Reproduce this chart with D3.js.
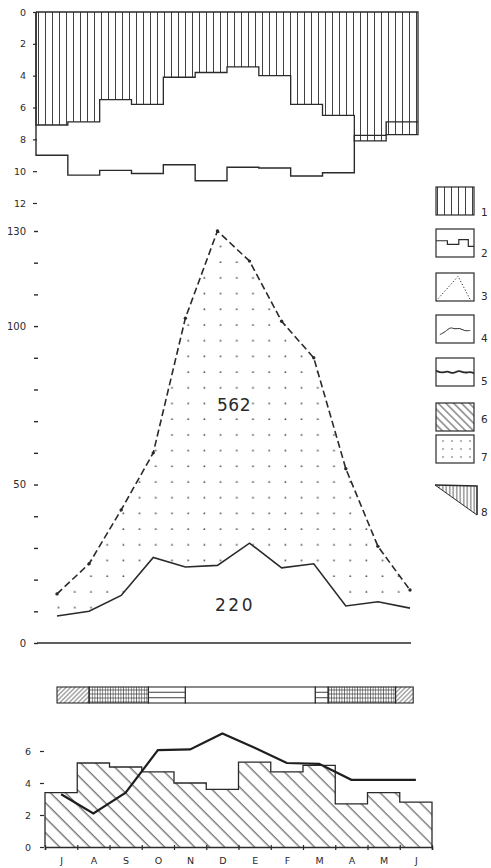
<!DOCTYPE html>
<html><head><meta charset="utf-8">
<script src="https://cdn.jsdelivr.net/npm/d3@7/dist/d3.min.js"></script>
<style>
html,body{margin:0;padding:0;background:#fff;}
svg{display:block;}
text{font-family:"DejaVu Sans",sans-serif;fill:#2a2a2a;}
</style></head>
<body>
<svg id="c" width="491" height="868"></svg>
<script>
// ---------- DATA ----------
const months = ["J","A","S","O","N","D","E","F","M","A","M","J"];
// top panel (depth, 0 at top)
const topHatch = [7.1, 6.9, 5.5, 5.8, 4.1, 3.8, 3.45, 4.0, 5.8, 6.5, 8.1, 7.7];
const topLine  = [9.0, 10.25, 9.95, 10.15, 9.6, 10.6, 9.75, 9.8, 10.3, 10.1, 7.75, 6.9];
const topTicks = [0, 2, 4, 6, 8, 10, 12];
// middle panel
const midDashed = [15.5, 25, 42, 60, 102.5, 130, 120.5, 101.5, 90, 55, 30.5, 16.7];
const midSolid  = [8.5, 10, 15, 27, 24, 24.5, 31.5, 23.7, 25, 11.7, 13, 11];
const midTicks  = [0,10,20,30,40,50,60,70,80,90,100,110,120,130];
const midLabels = [0, 50, 100, 130];
const midTotals = ["562", "220"];
// strip
const stripStart = [0, 1, 2.85, 4, 8.05, 8.45, 10.55];
const stripEnd   = [1, 2.85, 4, 8.05, 8.45, 10.55, 11.1];
const stripKind  = ["diag", "grid", "horiz", "none", "horiz", "grid", "diag"];
// bottom panel
const botHatch = [3.4, 5.25, 5.0, 4.7, 4.0, 3.6, 5.3, 4.7, 5.1, 2.7, 3.4, 2.8];
const botLine  = [3.3, 2.1, 3.4, 6.05, 6.1, 7.1, 6.2, 5.25, 5.2, 4.2, 4.2, 4.2];
const botTicks = [0, 2, 4, 6];
// legend
const legendLabels = ["1","2","3","4","5","6","7","8"];

// ---------- SETUP ----------
const ink = "#2a2a2a";
const svg = d3.select("#c");
const defs = svg.append("defs");

function linePattern(id, w, h, rot, lines, sw){
  const p = defs.append("pattern").attr("id", id).attr("patternUnits","userSpaceOnUse")
    .attr("width", w).attr("height", h);
  if (rot) p.attr("patternTransform", "rotate(" + rot + ")");
  lines.forEach(l => p.append("line").attr("x1", l[0]).attr("y1", l[1]).attr("x2", l[2]).attr("y2", l[3])
    .attr("stroke", ink).attr("stroke-width", sw));
  return p;
}
linePattern("vhatch", 7, 10, 0, [[3.5,0,3.5,10]], 0.9);
linePattern("vhatchDense", 3.5, 10, 0, [[1.75,0,1.75,10]], 0.8);
linePattern("dhatchBig", 10.6, 10, -45, [[5,0,5,10]], 0.9);
linePattern("dhatchLeg", 5.5, 10, -45, [[2.7,0,2.7,10]], 0.9);
linePattern("fwd", 3.2, 10, 45, [[1.6,0,1.6,10]], 0.7);
linePattern("grid", 2.6, 4, 0, [[1.3,0,1.3,4],[0,2,2.6,2]], 0.6);
const dp = defs.append("pattern").attr("id","dots").attr("patternUnits","userSpaceOnUse")
  .attr("width", 16.2).attr("height", 15.7).attr("x", 2).attr("y", 3);
dp.append("circle").attr("cx", 8).attr("cy", 8).attr("r", 0.95).attr("fill", "#555");
const dpl = defs.append("pattern").attr("id","dotsLeg").attr("patternUnits","userSpaceOnUse")
  .attr("width", 9).attr("height", 8).attr("x", 439).attr("y", 437);
dpl.append("circle").attr("cx", 4).attr("cy", 4).attr("r", 0.8).attr("fill", "#555");

function stepPts(vals){
  const pts = [];
  vals.forEach((v,i) => { pts.push([i, v]); pts.push([i+1, v]); });
  return pts;
}

// ---------- TOP PANEL ----------
const xT = d3.scaleLinear().domain([0, 12]).range([36, 418]);
const yT = d3.scaleLinear().domain([0, 12]).range([12, 203]);
const gT = svg.append("g");
const hatchArea = d3.area().x(d => xT(d[0])).y0(yT(0)).y1(d => yT(d[1]));
gT.append("path").datum(stepPts(topHatch)).attr("d", hatchArea)
  .attr("fill", "url(#vhatch)").attr("stroke", "none");
const hatchOutline = [[0,0]].concat(stepPts(topHatch)).concat([[12,0],[0,0]]);
gT.append("path").datum(hatchOutline)
  .attr("d", d3.line().x(d => xT(d[0])).y(d => yT(d[1])))
  .attr("fill", "none").attr("stroke", ink).attr("stroke-width", 1.3);
gT.append("path").datum([[0,0]].concat(stepPts(topLine)))
  .attr("d", d3.line().x(d => xT(d[0])).y(d => yT(d[1])))
  .attr("fill", "none").attr("stroke", ink).attr("stroke-width", 1.4);
const axT = gT.append("g").attr("transform", "translate(37,0)")
  .call(d3.axisLeft(yT).tickValues(topTicks).tickSize(4).tickPadding(7).tickFormat(d3.format("d")));
axT.select(".domain").remove();
axT.selectAll(".tick line").attr("stroke", ink).attr("stroke-width", 1.2);
axT.selectAll(".tick text").attr("font-size", 9.5).attr("fill", ink);

// ---------- MIDDLE PANEL ----------
const xM = d3.scaleLinear().domain([0, 11]).range([57, 410]);
const yM = d3.scaleLinear().domain([0, 130]).range([643, 231]);
const gM = svg.append("g");
const between = d3.area().x((d,i) => xM(i)).y0((d,i) => yM(midSolid[i])).y1(d => yM(d));
gM.append("path").datum(midDashed).attr("d", between).attr("fill", "url(#dots)");
gM.append("path").datum(midDashed)
  .attr("d", d3.line().x((d,i) => xM(i)).y(d => yM(d)))
  .attr("fill", "none").attr("stroke", ink).attr("stroke-width", 1.6)
  .attr("stroke-dasharray", "7,3.5");
gM.selectAll("circle.pt").data(midDashed).enter().append("circle")
  .attr("cx", (d,i) => xM(i)).attr("cy", d => yM(d)).attr("r", 1.7).attr("fill", ink);
gM.append("path").datum(midSolid)
  .attr("d", d3.line().x((d,i) => xM(i)).y(d => yM(d)))
  .attr("fill", "none").attr("stroke", ink).attr("stroke-width", 1.6);
gM.append("line").attr("x1", 37).attr("x2", 411).attr("y1", yM(0)).attr("y2", yM(0))
  .attr("stroke", ink).attr("stroke-width", 1.5);
const axM = gM.append("g").attr("transform", "translate(38,0)")
  .call(d3.axisLeft(yM).tickValues(midTicks).tickSize(4).tickPadding(8)
    .tickFormat(d => midLabels.includes(d) ? d : ""));
axM.select(".domain").remove();
axM.selectAll(".tick line").attr("stroke", ink).attr("stroke-width", 1.4);
axM.selectAll(".tick text").attr("font-size", 10).attr("fill", ink);
gM.append("text").attr("x", 234).attr("y", 411).attr("text-anchor", "middle")
  .attr("font-size", 17).attr("letter-spacing", 0.5).text(midTotals[0]);
gM.append("text").attr("x", 235).attr("y", 611).attr("text-anchor", "middle")
  .attr("font-size", 17).attr("letter-spacing", 2.5).text(midTotals[1]);

// ---------- STRIP ----------
const gS = svg.append("g");
const sy0 = 687, sh = 16;
const kindFill = {diag: "url(#fwd)", grid: "url(#grid)", horiz: "#fff", none: "#fff"};
stripStart.forEach((s, i) => {
  const x0 = xM(s), x1 = xM(stripEnd[i]);
  gS.append("rect").attr("x", x0).attr("y", sy0).attr("width", x1 - x0).attr("height", sh)
    .attr("fill", kindFill[stripKind[i]])
    .attr("stroke", ink).attr("stroke-width", 1.1);
  if (stripKind[i] === "horiz") {
    [0.33, 0.67].forEach(f => gS.append("line").attr("x1", x0).attr("x2", x1)
      .attr("y1", sy0 + sh*f).attr("y2", sy0 + sh*f).attr("stroke", ink).attr("stroke-width", 0.9));
  }
});

// ---------- BOTTOM PANEL ----------
const xB = d3.scaleLinear().domain([0, 12]).range([45, 432]);
const yB = d3.scaleLinear().domain([0, 6]).range([847, 751]);
const gB = svg.append("g");
const bArea = d3.area().x(d => xB(d[0])).y0(yB(0)).y1(d => yB(d[1]));
gB.append("path").datum(stepPts(botHatch)).attr("d", bArea)
  .attr("fill", "url(#dhatchBig)").attr("stroke", "none");
gB.append("path").datum([[0,0]].concat(stepPts(botHatch)).concat([[12,0]]))
  .attr("d", d3.line().x(d => xB(d[0])).y(d => yB(d[1])))
  .attr("fill", "none").attr("stroke", ink).attr("stroke-width", 1.3);
gB.append("path").datum(botLine)
  .attr("d", d3.line().x((d,i) => xB(i + 0.5)).y(d => yB(d)))
  .attr("fill", "none").attr("stroke", "#1e1e1e").attr("stroke-width", 2.2);
const axBx = gB.append("g").attr("transform", "translate(0," + yB(0) + ")")
  .call(d3.axisBottom(xB).tickValues(d3.range(0, 13)).tickSize(3).tickFormat(""));
axBx.select(".domain").attr("stroke", ink).attr("stroke-width", 1.6);
axBx.selectAll(".tick line").attr("stroke", ink).attr("stroke-width", 1.2).attr("y1", -2);
const axBm = gB.append("g").attr("transform", "translate(0," + yB(0) + ")")
  .call(d3.axisBottom(xB).tickValues(d3.range(0, 12).map(i => i + 0.5)).tickSize(0).tickPadding(10)
    .tickFormat((d,i) => months[i]));
axBm.select(".domain").remove();
axBm.selectAll(".tick text").attr("font-size", 9.5).attr("fill", ink);
const axBy = gB.append("g").attr("transform", "translate(44,0)")
  .call(d3.axisLeft(yB).tickValues(botTicks).tickSize(4).tickPadding(9).tickFormat(d3.format("d")));
axBy.select(".domain").remove();
axBy.selectAll(".tick line").attr("stroke", ink).attr("stroke-width", 1.2);
axBy.selectAll(".tick text").attr("font-size", 9.5).attr("fill", ink);

// ---------- LEGEND ----------
const gL = svg.append("g");
const boxTop = [187, 229, 273, 315, 358, 403, 435];
const lx = 436, lw = 38, lh = 28;
const legFill = ["url(#vhatch)", "#fff", "#fff", "#fff", "#fff", "url(#dhatchLeg)", "url(#dotsLeg)"];
boxTop.forEach((t, i) => {
  gL.append("rect").attr("x", lx).attr("y", t).attr("width", lw).attr("height", lh)
    .attr("fill", legFill[i]).attr("stroke", ink).attr("stroke-width", 1.2);
});
{
  const t = boxTop[1];
  const pts = [[0,0.42],[0.3,0.42],[0.3,0.55],[0.6,0.55],[0.6,0.38],[0.85,0.38],[0.85,0.62],[1,0.62]];
  gL.append("path").attr("d", d3.line()(pts.map(p => [lx + p[0]*lw, t + p[1]*lh])))
    .attr("fill", "none").attr("stroke", ink).attr("stroke-width", 1.2);
}
{
  const t = boxTop[2];
  const pts = [[0,1],[0.58,0.12],[0.92,1]];
  gL.append("path").attr("d", d3.line()(pts.map(p => [lx + p[0]*lw, t + p[1]*lh])))
    .attr("fill", "none").attr("stroke", ink).attr("stroke-width", 1).attr("stroke-dasharray", "1.2,2");
}
{
  const t = boxTop[3];
  const pts = [[0.1,0.7],[0.25,0.6],[0.38,0.42],[0.5,0.52],[0.62,0.45],[0.75,0.58],[0.9,0.55]];
  gL.append("path").attr("d", d3.line().curve(d3.curveBasis)(pts.map(p => [lx + p[0]*lw, t + p[1]*lh])))
    .attr("fill", "none").attr("stroke", ink).attr("stroke-width", 1);
}
{
  const t = boxTop[4];
  const pts = [[0,0.45],[0.15,0.55],[0.3,0.45],[0.45,0.58],[0.6,0.42],[0.75,0.55],[0.9,0.48],[1,0.55]];
  gL.append("path").attr("d", d3.line().curve(d3.curveBasis)(pts.map(p => [lx + p[0]*lw, t + p[1]*lh])))
    .attr("fill", "none").attr("stroke", ink).attr("stroke-width", 1.8);
}
{
  const t = 485;
  const tri = [[lx - 1, t], [lx + 41, t + 1], [lx + 41, t + 30]];
  gL.append("path").attr("d", d3.line()(tri) + "Z").attr("fill", "url(#vhatchDense)").attr("stroke", "none");
  gL.append("path").attr("d", d3.line()([tri[0], tri[1], tri[2]]))
    .attr("fill", "none").attr("stroke", ink).attr("stroke-width", 1.6);
  gL.append("path").attr("d", d3.line()([tri[0], tri[2]]))
    .attr("fill", "none").attr("stroke", ink).attr("stroke-width", 1);
}
const labelY = [216, 257, 300, 342, 385, 423, 461, 516];
legendLabels.forEach((l, i) => {
  gL.append("text").attr("x", 481).attr("y", labelY[i]).attr("font-size", 10.5).text(l);
});
</script>
</body></html>
